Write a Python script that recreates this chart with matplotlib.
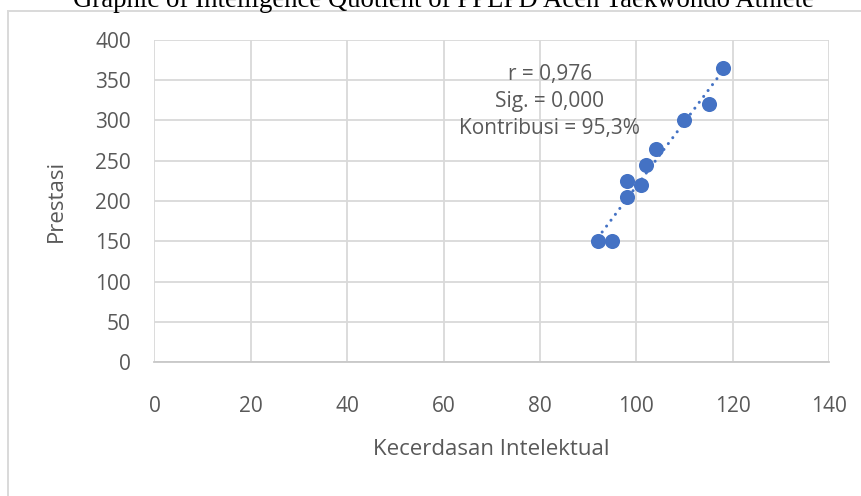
import numpy as np
import matplotlib
matplotlib.use("Agg")
import matplotlib.pyplot as plt
from matplotlib.patches import Rectangle

# IQ vs performance of PPLPD Aceh taekwondo athletes
iq = [92, 95, 98, 98, 101, 102, 104, 110, 115, 118]
prestasi = [150, 150, 205, 225, 220, 245, 265, 300, 320, 365]
x_ticks = [0, 20, 40, 60, 80, 100, 120, 140]
y_ticks = [0, 50, 100, 150, 200, 250, 300, 350, 400]
stats_lines = ["r = 0,976", "Sig. = 0,000", "Kontribusi = 95,3%"]

blue = "#4472C4"
grey = "#595959"
grid = "#d9d9d9"

plt.rcParams['font.family'] = ['Open Sans', 'DejaVu Sans']

fig = plt.figure(figsize=(8.62, 4.96), dpi=100)
ax = fig.add_axes([154.5 / 862, 1 - 362 / 496, (829 - 154.5) / 862, (362 - 40) / 496])

# outer chart border (runs off the right and bottom edges)
fig.patches.append(Rectangle((8.5 / 862, -0.2), 1.2, 1.2 - 10.5 / 496,
                             transform=fig.transFigure, fill=False,
                             edgecolor=grid, linewidth=1.4))

# linear trend line
k, b = np.polyfit(iq, prestasi, 1)
xs = np.array([min(iq), max(iq)])
ax.plot(xs, k * xs + b, color=blue, linewidth=2.2,
        linestyle=(0, (0.01, 2.4)), dash_capstyle='round', zorder=2)

ax.scatter(iq, prestasi, s=118, color=blue, zorder=3, linewidths=0)

ax.set_xlim(0, 140)
ax.set_ylim(0, 400)
ax.set_xticks(x_ticks)
ax.set_yticks(y_ticks)
ax.grid(True, color=grid, linewidth=1.3)
ax.set_axisbelow(True)
for s in ['top', 'right', 'left']:
    ax.spines[s].set_visible(False)
ax.spines['bottom'].set_color('#c8c8c8')
ax.spines['bottom'].set_linewidth(1.3)
ax.tick_params(length=0, labelsize=15, labelcolor=grey)
ax.tick_params(axis='x', pad=24.5)
ax.tick_params(axis='y', pad=17)

ax.set_xlabel("Kecerdasan Intelektual", fontsize=16, color=grey, labelpad=16)
ax.set_ylabel("Prestasi", fontsize=16, color=grey, labelpad=20)

ax.text(0.586, 0.808, "\n".join(stats_lines), transform=ax.transAxes,
        ha='center', va='center', multialignment='center',
        fontsize=15, color=grey, linespacing=1.38)

fig.text(443 / 862, 1 - 7 / 496, "Graphic of Intelligence Quotient of PPLPD Aceh Taekwondo Athlete",
         ha='center', va='baseline', fontsize=19.3, family='Liberation Serif', color='black')

fig.savefig("out.png", dpi=100)
